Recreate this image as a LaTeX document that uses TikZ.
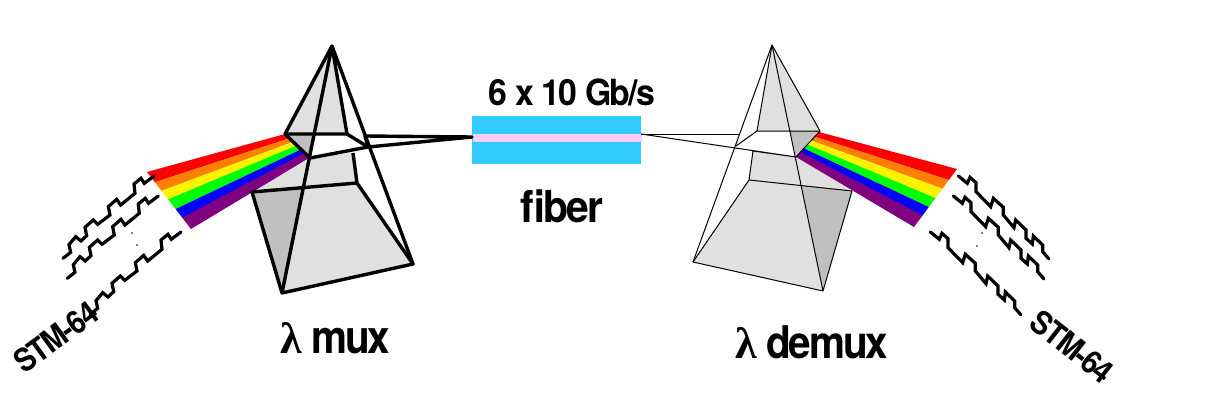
\documentclass[tikz,border=0pt]{standalone}
\usepackage{fontspec}
\usetikzlibrary{calc}
\newfontfamily\hv[BoldFont={TeX Gyre Heros Bold},LetterSpace=-5]{TeX Gyre Heros}
\newfontfamily\lam{Liberation Serif}
\definecolor{prismgray}{HTML}{E0E0E0}
\definecolor{prismdark}{HTML}{C0C0C0}
\definecolor{fiberblue}{HTML}{33CCFF}
\definecolor{fiberpink}{HTML}{FFCCFF}
\definecolor{bandorange}{HTML}{FF8000}
\definecolor{bandpurple}{HTML}{800080}
\tikzset{
  lbl/.style={inner sep=0pt,outer sep=0pt,text=black},
  wave/.style={line width=3.2pt,line cap=round,line join=miter},
  dotmark/.style={fill=black,draw=none},
  heavy/.style={line width=3.4pt,line join=round},
  light/.style={line width=1pt,line join=round}
}
\newcommand{\beam}[8]{%
  \coordinate (nt) at (#1);\coordinate (ft) at (#2);\coordinate (fb) at (#3);\coordinate (nb) at (#4);
  \foreach \ta/\tb/\col in {0/#5/red,#5/#6/bandorange,#6/#7/yellow,#7/#8/green,#8/.81/blue}{
    \fill[\col] ($(nt)!\ta!(nb)$) -- ($(ft)!\ta!(fb)$) -- ($(ft)!\tb!(fb)$) -- ($(nt)!\tb!(nb)$) -- cycle;
  }
  \fill[bandpurple] ($(nt)!.80!(nb)$) -- ($(ft)!.80!(fb)$) -- (fb) -- (nb) -- cycle;
}
\begin{document}
\begin{tikzpicture}[x=1pt,y=-1pt]
\useasboundingbox (0,0) rectangle (1205,420);
\fill[white] (0,0) rectangle (1205,420);

% ---------- left prism
\fill[prismgray] (332,46) -- (285,134) -- (347,134) -- cycle;
\fill[prismgray] (310,158) -- (353,153) -- (357,183) -- (252,192) -- cycle;
\fill[prismgray] (252,192) -- (357,183) -- (413,264) -- (282,293) -- cycle;
\fill[prismdark] (252,192) -- (303.5,187.5) -- (282,293) -- cycle;
\fill[prismdark] (285,134) -- (314,134) -- (309.5,158) -- cycle;
\beam{285,134}{147,172}{191,229}{309,158}{.18}{.33}{.48}{.65}
\coordinate (mA) at (332,46);
\coordinate (mB) at (285,134);
\coordinate (mC) at (347,134);
\coordinate (mD) at (368,147);
\coordinate (mE) at (413,264);
\coordinate (mF) at (282,293);
\coordinate (mG) at (252,192);
\coordinate (mH) at (357,183);
\coordinate (mI) at (353,153);
\coordinate (mJ) at (310,158);
\coordinate (mK) at (365,136);
\node[fill=fiberblue,minimum width=169pt,minimum height=48pt,inner sep=0pt,outer sep=0pt] (fiber) at (556.5,140) {};
\fill[fiberpink] (472.5,134) rectangle (641.5,142);
\coordinate (fL) at (472,137);
\coordinate (fR) at (641,134);
\draw[heavy] (mA) -- (mB) -- (mC) -- (mA);
\draw[heavy] (mA) -- (mE) -- (mF) -- cycle;
\draw[heavy] (mC) -- (mD);
\draw[heavy] (mB) -- (mJ) -- (mD);
\draw[heavy] (mD) -- (mK) -- (fL) -- (mD);
\draw[heavy] (mI) -- (mH) -- (mE);
\draw[heavy] (mH) -- (mG) -- (mF);

% ---------- right prism
\fill[prismgray] (772,45) -- (757,131) -- (820,131) -- cycle;
\fill[prismgray] (796,157) -- (753,151) -- (749,180) -- (852,191) -- cycle;
\fill[prismgray] (749,180) -- (852,191) -- (823,291) -- (693,262) -- cycle;
\fill[prismdark] (852,191) -- (801.5,185.7) -- (823,291) -- cycle;
\fill[prismdark] (790,131) -- (820,131) -- (796,157) -- cycle;
\beam{819,132}{957,169}{914,227}{796,157}{.19}{.34}{.50}{.655}
\coordinate (dA) at (772,45);
\coordinate (dB) at (820,131);
\coordinate (dC) at (757,131);
\coordinate (dD) at (736,146);
\coordinate (dE) at (693,262);
\coordinate (dF) at (823,291);
\coordinate (dG) at (852,191);
\coordinate (dH) at (749,180);
\coordinate (dI) at (753,151);
\coordinate (dJ) at (796,157);
\coordinate (dK) at (739,134);
\draw[light] (dA) -- (dB) -- (dC) -- (dA);
\draw[light] (dA) -- (dE) -- (dF) -- cycle;
\draw[light] (dC) -- (dD);
\draw[light] (dB) -- (dJ);
\draw[light] (fR) -- (dJ) -- (dI) -- (dH);
\draw[light] (fR) -- (dK);
\draw[light] (dE) -- (dH) -- (dG) -- (dF);

% ---------- signals left
\foreach \dx/\dy in {0/0,4.3/20,27/56}{
  \begin{scope}[shift={(55+\dx,170+\dy)},x=.3333pt,y=-.3333pt]
    \draw[wave] (24,265) -- (47,247) -- (42,224) -- (62,200) -- (78,213) -- (95,197) -- (90,172) -- (115,150) -- (128,163) -- (165,135) -- (160,110) -- (185,88) -- (197,105) -- (240,70) -- (237,42) -- (258,25) -- (268,40) -- (297,18);
  \end{scope}
}
% ---------- signals right
\foreach \dx/\dy in {0/0,-5/20,-28/56}{
  \begin{scope}[shift={(950+\dx,170+\dy)},x=.3333pt,y=-.3333pt]
    \draw[wave] (25,18) -- (52,40) -- (60,22) -- (78,38) -- (78,65) -- (122,110) -- (130,85) -- (160,112) -- (160,135) -- (192,173) -- (197,150) -- (228,180) -- (228,205) -- (247,222) -- (250,198) -- (278,225) -- (278,245) -- (297,267);
  \end{scope}
}
\fill[dotmark] (132,233) circle (.8pt) (137,245) circle (.8pt) (982,233) circle (.8pt) (977,246) circle (.8pt);

% ---------- labels
\node[lbl,anchor=base] (rate) at (572,105) {\scalebox{.94}[1]{\fontsize{36}{36}\hv\bfseries 6 x 10 Gb/s}};
\node[lbl,anchor=base] (fib) at (562,222) {\scalebox{.93}[1]{\fontsize{44}{44}\hv\bfseries fiber}};
\node[lbl,anchor=base west] (mux) at (280,353) {\fontsize{44}{44}\lam\bfseries λ};
\node[lbl,anchor=base west] (muxb) at (311,353) {\scalebox{.88}[1]{\fontsize{46}{46}\hv\bfseries mux}};
\node[lbl,anchor=base west] (demux) at (735,358) {\fontsize{44}{44}\lam\bfseries λ};
\node[lbl,anchor=base west] (demuxb) at (766,358) {\scalebox{.9}[1]{\fontsize{45}{45}\hv\bfseries demux}};
\node[lbl,rotate=36] (stmL) at (56,337) {\scalebox{.9}[1]{\fontsize{32}{32}\hv\bfseries STM-64}};
\node[lbl,rotate=-38] (stmR) at (1072,347) {\scalebox{.9}[1]{\fontsize{32}{32}\hv\bfseries STM-64}};
\end{tikzpicture}
\end{document}
